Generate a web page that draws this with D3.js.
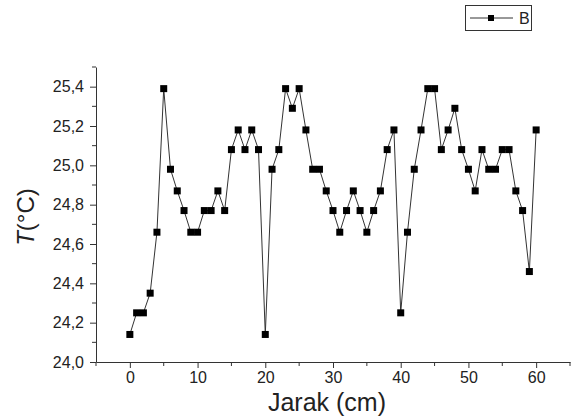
<!DOCTYPE html>
<html>
<head>
<meta charset="utf-8">
<script src="https://cdn.jsdelivr.net/npm/d3@7"></script>
<style>
  body { margin: 0; background: #fff; }
  text { font-family: Arial, "Liberation Sans", sans-serif; fill: #222; }
</style>
</head>
<body>
<svg id="chart" width="573" height="418"></svg>
<script>
// distance (cm) and temperature (°C)
const jarak = d3.range(0, 61);
const suhu = [
  24.14, 24.25, 24.25, 24.35, 24.66, 25.39, 24.98, 24.87, 24.77, 24.66,
  24.66, 24.77, 24.77, 24.87, 24.77, 25.08, 25.18, 25.08, 25.18, 25.08,
  24.14, 24.98, 25.08, 25.39, 25.29, 25.39, 25.18, 24.98, 24.98, 24.87,
  24.77, 24.66, 24.77, 24.87, 24.77, 24.66, 24.77, 24.87, 25.08, 25.18,
  24.25, 24.66, 24.98, 25.18, 25.39, 25.39, 25.08, 25.18, 25.29, 25.08,
  24.98, 24.87, 25.08, 24.98, 24.98, 25.08, 25.08, 24.87, 24.77, 24.46,
  25.18
];
const xTicks = [0, 10, 20, 30, 40, 50, 60];
const yTicks = [24.0, 24.2, 24.4, 24.6, 24.8, 25.0, 25.2, 25.4];
const seriesName = "B";

const svg = d3.select("#chart");
const plot = { left: 96, right: 570, top: 67, bottom: 362 };

const x = d3.scaleLinear().domain([-5, 65]).range([plot.left, plot.right]);
const y = d3.scaleLinear().domain([24.0, 25.5]).range([plot.bottom, plot.top]);
const fmt = d => d3.format(".1f")(d).replace(".", ",");

// minor ticks
const xMinor = d3.range(-5, 66, 5).filter(v => !xTicks.includes(v));
const yMinor = d3.range(24.1, 25.51, 0.2).map(v => +v.toFixed(1));

const xAxis = svg.append("g").attr("transform", `translate(0,${plot.bottom})`)
  .call(d3.axisBottom(x).tickValues(xTicks).tickSize(6).tickSizeOuter(0).tickPadding(4));
xAxis.selectAll("text").style("font-size", "16px");
xAxis.selectAll(".minor").data(xMinor).enter().append("line")
  .attr("class", "minor")
  .attr("x1", d => x(d)).attr("x2", d => x(d))
  .attr("y1", 0).attr("y2", 4)
  .attr("stroke", "#333");

const yAxis = svg.append("g").attr("transform", `translate(${plot.left},0)`)
  .call(d3.axisLeft(y).tickValues(yTicks).tickFormat(fmt).tickSize(6).tickSizeOuter(0).tickPadding(6));
yAxis.selectAll("text").style("font-size", "16px");
yAxis.selectAll(".minor").data(yMinor).enter().append("line")
  .attr("class", "minor")
  .attr("y1", d => y(d)).attr("y2", d => y(d))
  .attr("x1", 0).attr("x2", -4)
  .attr("stroke", "#333");

svg.selectAll(".domain, .tick line").attr("stroke", "#333");

// axis titles
svg.append("text")
  .attr("x", 327).attr("y", 411)
  .attr("text-anchor", "middle")
  .style("font-size", "25px")
  .text("Jarak (cm)");

const yt = svg.append("text")
  .attr("transform", "translate(34,217) rotate(-90)")
  .attr("text-anchor", "middle")
  .style("font-size", "24px");
yt.append("tspan").style("font-style", "italic").text("T");
yt.append("tspan").text("(°C)");

// series
const data = jarak.map((d, i) => ({ x: d, y: suhu[i] }));

svg.append("path")
  .datum(data)
  .attr("fill", "none")
  .attr("stroke", "#333")
  .attr("stroke-width", 1)
  .attr("d", d3.line().x(d => x(d.x)).y(d => y(d.y)));

svg.selectAll(".pt").data(data).enter().append("rect")
  .attr("class", "pt")
  .attr("x", d => x(d.x) - 3.5)
  .attr("y", d => y(d.y) - 3.5)
  .attr("width", 7).attr("height", 7)
  .attr("fill", "#000");

// legend
const lg = svg.append("g");
lg.append("rect")
  .attr("x", 465.5).attr("y", 5.5).attr("width", 66).attr("height", 25)
  .attr("fill", "none").attr("stroke", "#333");
lg.append("line")
  .attr("x1", 470).attr("x2", 513).attr("y1", 18).attr("y2", 18)
  .attr("stroke", "#333");
lg.append("rect")
  .attr("x", 488).attr("y", 15).attr("width", 6).attr("height", 6)
  .attr("fill", "#000");
lg.append("text")
  .attr("x", 519).attr("y", 24)
  .style("font-size", "16px")
  .text(seriesName);
</script>
</body>
</html>
